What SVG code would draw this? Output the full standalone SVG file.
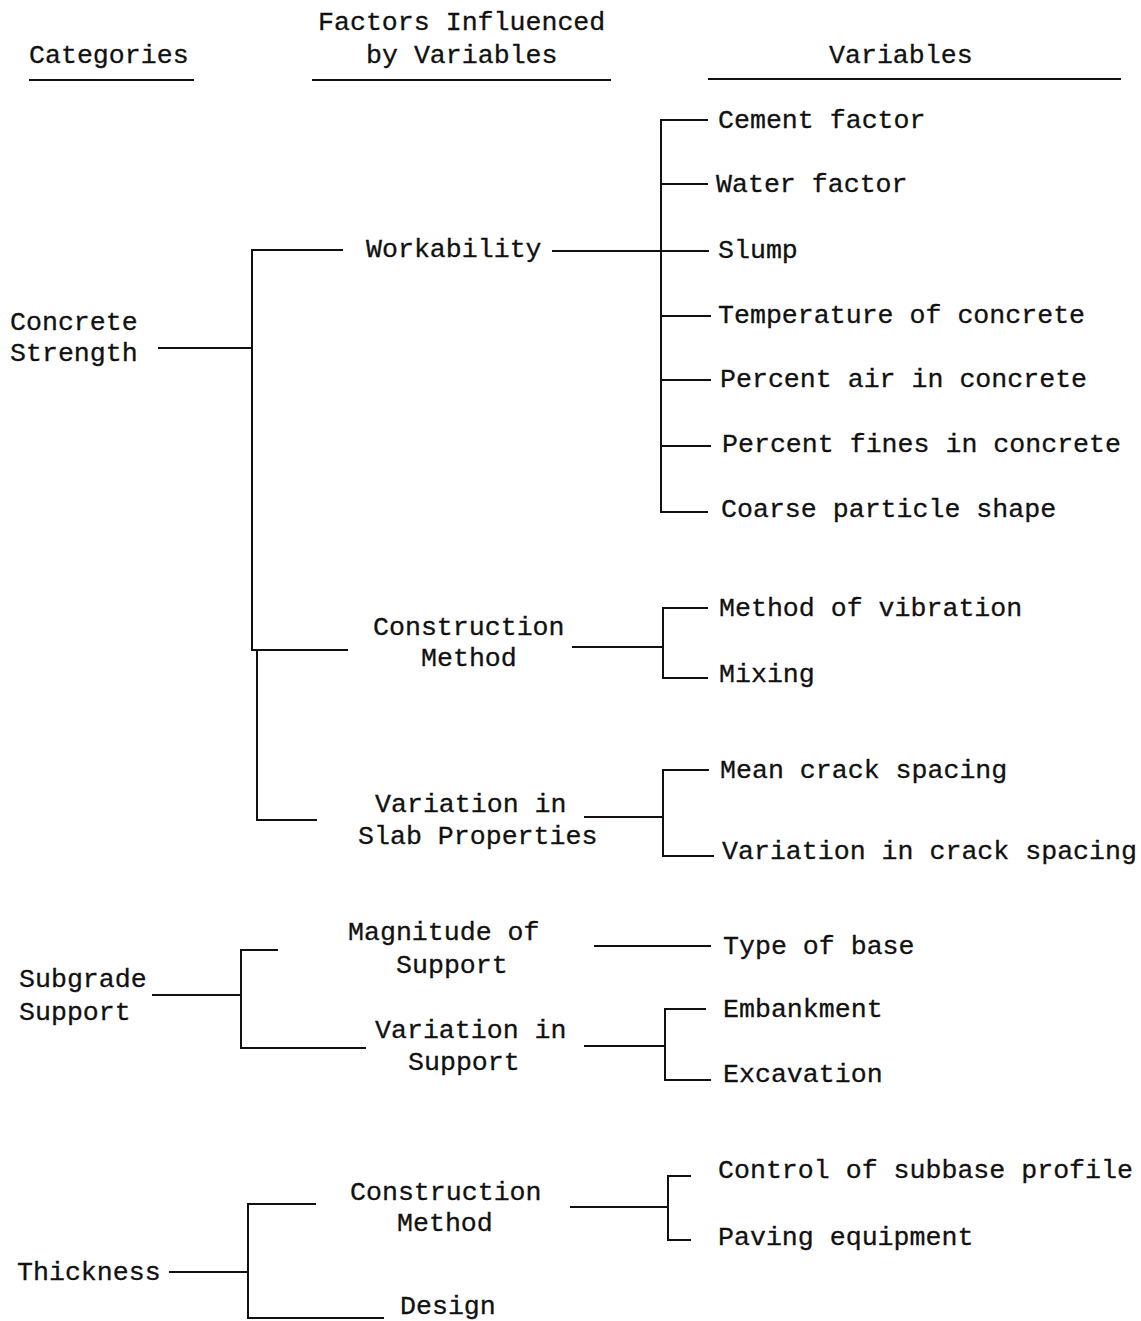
<svg xmlns="http://www.w3.org/2000/svg" width="1141" height="1321" viewBox="0 0 1141 1321">
<style>
text{font-family:"Liberation Mono","Courier New",monospace;font-size:26.6px;fill:#111;stroke:#111;stroke-width:0.3}
.ln{stroke:#111;stroke-width:2;fill:none;stroke-linecap:square}
</style>
<rect width="1141" height="1321" fill="#fff"/>
<g id="headers">
<text x="29" y="63">Categories</text>
<text x="318" y="30">Factors Influenced</text>
<text x="366" y="63">by Variables</text>
<text x="829" y="63">Variables</text>
<path class="ln" d="M30,80H193M313,80H610M709,79H1120"/>
</g>
<g id="connectors">
<path class="ln" d="M159,348H252M252,250V650M342,250H252M252,650H347M257,650V820H316"/>
<path class="ln" d="M553,251H661M661,120V512H707M661,120H707M661,184H707M661,251H708M661,316H710M661,380H710M661,446H710"/>
<path class="ln" d="M573,647H663M663,608V678H707M663,608H707"/>
<path class="ln" d="M585,817H663M663,770V856H713M663,770H708"/>
<path class="ln" d="M153,995H241M241,950V1048H365M241,950H277"/>
<path class="ln" d="M595,946H710"/>
<path class="ln" d="M585,1046H665M665,1009V1080H710M665,1009H705"/>
<path class="ln" d="M170,1272H248M248,1204V1318H383M248,1204H315"/>
<path class="ln" d="M571,1207H668M668,1176V1240H690M668,1176H690"/>
</g>
<g id="concrete-strength">
<text x="10" y="330">Concrete</text>
<text x="10" y="361">Strength</text>
</g>
<g id="workability"><text x="366" y="257">Workability</text></g>
<g id="cement-factor"><text x="718" y="128">Cement factor</text></g>
<g id="water-factor"><text x="716" y="192">Water factor</text></g>
<g id="slump"><text x="718" y="258">Slump</text></g>
<g id="temperature"><text x="718" y="323">Temperature of concrete</text></g>
<g id="percent-air"><text x="720" y="387">Percent air in concrete</text></g>
<g id="percent-fines"><text x="722" y="452">Percent fines in concrete</text></g>
<g id="coarse-particle"><text x="721" y="517">Coarse particle shape</text></g>
<g id="construction-method-1">
<text x="373" y="635">Construction</text>
<text x="421" y="666">Method</text>
</g>
<g id="method-of-vibration"><text x="719" y="616">Method of vibration</text></g>
<g id="mixing"><text x="719" y="682">Mixing</text></g>
<g id="variation-slab">
<text x="375" y="812">Variation in</text>
<text x="358" y="844">Slab Properties</text>
</g>
<g id="mean-crack"><text x="720" y="778">Mean crack spacing</text></g>
<g id="variation-crack"><text x="722" y="859">Variation in crack spacing</text></g>
<g id="subgrade-support">
<text x="19" y="987">Subgrade</text>
<text x="19" y="1020">Support</text>
</g>
<g id="magnitude-support">
<text x="348" y="940">Magnitude of</text>
<text x="396" y="973">Support</text>
</g>
<g id="type-of-base"><text x="723" y="954">Type of base</text></g>
<g id="variation-support">
<text x="375" y="1038">Variation in</text>
<text x="408" y="1070">Support</text>
</g>
<g id="embankment"><text x="723" y="1017">Embankment</text></g>
<g id="excavation"><text x="723" y="1082">Excavation</text></g>
<g id="thickness"><text x="17" y="1280">Thickness</text></g>
<g id="construction-method-2">
<text x="350" y="1200">Construction</text>
<text x="397" y="1231">Method</text>
</g>
<g id="control-subbase"><text x="718" y="1178">Control of subbase profile</text></g>
<g id="paving-equipment"><text x="718" y="1245">Paving equipment</text></g>
<g id="design"><text x="400" y="1314">Design</text></g>
</svg>
